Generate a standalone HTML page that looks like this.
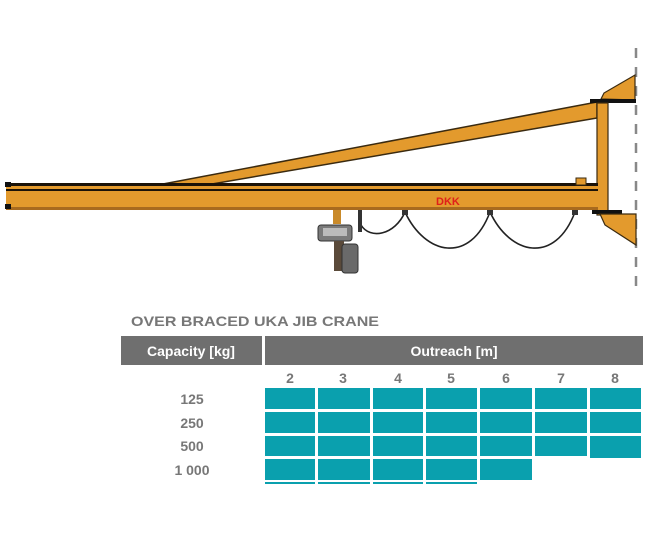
<!DOCTYPE html>
<html><head><meta charset="utf-8"><style>
body{margin:0;background:#fff;width:655px;height:545px;overflow:hidden}
svg{display:block}
</style></head><body>
<svg width="655" height="545" viewBox="0 0 655 545" xmlns="http://www.w3.org/2000/svg" font-family="Liberation Sans, sans-serif">
<!-- dashed wall line -->
<line x1="636" y1="48" x2="636" y2="292" stroke="#888" stroke-width="2.5" stroke-dasharray="10,9"/>
<!-- brace -->
<polygon points="163,184 597,102 597,118 212,184" fill="#e39a2d" stroke="#3a2a10" stroke-width="1.5"/>
<!-- top cone & plate -->
<polygon points="601,99 604,93 635,75 635,100" fill="#e39a2d" stroke="#3a2a10" stroke-width="1.2"/>
<rect x="590" y="99" width="46" height="4" fill="#111"/>
<!-- column -->
<rect x="597" y="103" width="11" height="112" fill="#e39a2d" stroke="#3a2a10" stroke-width="1.2"/>
<!-- beam -->
<rect x="6" y="183" width="592" height="27" fill="#e39a2d"/>
<rect x="6" y="183" width="592" height="3" fill="#1a1208"/>
<rect x="6" y="189" width="592" height="2" fill="#1a1208"/>
<rect x="6" y="207" width="592" height="3" fill="#a86a1e"/>
<rect x="5" y="182" width="6" height="5" fill="#111"/>
<rect x="5" y="204" width="6" height="5" fill="#111"/>
<rect x="576" y="178" width="10" height="7" fill="#e39a2d" stroke="#3a2a10" stroke-width="1"/>
<text x="436" y="205" font-size="11" font-weight="bold" fill="#e0201a">DKK</text>
<!-- bottom cone & plate -->
<rect x="592" y="210" width="30" height="4" fill="#111"/>
<polygon points="600,214 636,214 636,245 605,225" fill="#e39a2d" stroke="#3a2a10" stroke-width="1.2"/>
<!-- festoon -->
<g fill="none" stroke="#222" stroke-width="1.6">
<path d="M361,225 C370,240 395,235 405,212"/>
<path d="M405,212 C425,255 470,265 490,212"/>
<path d="M490,212 C510,255 555,265 575,212"/>
</g>
<rect x="358" y="210" width="4" height="22" fill="#333"/>
<rect x="402" y="210" width="6" height="5" fill="#333"/>
<rect x="487" y="210" width="6" height="5" fill="#333"/>
<rect x="572" y="210" width="6" height="5" fill="#333"/>
<!-- hoist -->
<rect x="333" y="210" width="8" height="14" fill="#c98a2a"/>
<rect x="318" y="225" width="34" height="16" rx="3" fill="#7a7a7a" stroke="#333"/>
<rect x="323" y="228" width="24" height="8" fill="#bbb"/>
<rect x="334" y="241" width="10" height="30" fill="#5a4a3a"/>
<rect x="342" y="244" width="16" height="29" rx="3" fill="#6a6a6a" stroke="#333"/>
<!-- table -->
<text x="131" y="326" font-size="14" font-weight="bold" fill="#777" textLength="248" lengthAdjust="spacingAndGlyphs">OVER BRACED UKA JIB CRANE</text>
<rect x="121" y="336" width="141" height="29" fill="#6f6f6f"/>
<rect x="265" y="336" width="378" height="29" fill="#6f6f6f"/>
<text x="191" y="356" font-size="14" font-weight="bold" fill="#fff" text-anchor="middle">Capacity [kg]</text>
<text x="454" y="356" font-size="14" font-weight="bold" fill="#fff" text-anchor="middle">Outreach [m]</text>
<g font-size="14" font-weight="bold" fill="#777" text-anchor="middle">
<text x="290" y="383">2</text><text x="343" y="383">3</text><text x="398" y="383">4</text><text x="451" y="383">5</text><text x="506" y="383">6</text><text x="561" y="383">7</text><text x="615" y="383">8</text>
<text x="192" y="404">125</text><text x="192" y="428">250</text><text x="192" y="451">500</text><text x="192" y="475">1 000</text>
</g>
<g fill="#0aa0ae">
<rect x="265" y="388" width="50" height="21"/><rect x="318" y="388" width="52" height="21"/><rect x="373" y="388" width="50" height="21"/><rect x="426" y="388" width="51" height="21"/><rect x="480" y="388" width="52" height="21"/><rect x="535" y="388" width="52" height="21"/><rect x="590" y="388" width="51" height="21"/>
<rect x="265" y="412" width="50" height="21"/><rect x="318" y="412" width="52" height="21"/><rect x="373" y="412" width="50" height="21"/><rect x="426" y="412" width="51" height="21"/><rect x="480" y="412" width="52" height="21"/><rect x="535" y="412" width="52" height="21"/><rect x="590" y="412" width="51" height="21"/>
<rect x="265" y="436" width="50" height="20"/><rect x="318" y="436" width="52" height="20"/><rect x="373" y="436" width="50" height="20"/><rect x="426" y="436" width="51" height="20"/><rect x="480" y="436" width="52" height="20"/><rect x="535" y="436" width="52" height="20"/><rect x="590" y="436" width="51" height="22"/>
<rect x="265" y="459" width="50" height="21"/><rect x="318" y="459" width="52" height="21"/><rect x="373" y="459" width="50" height="21"/><rect x="426" y="459" width="51" height="21"/><rect x="480" y="459" width="52" height="21"/>
<rect x="265" y="482" width="50" height="2"/><rect x="318" y="482" width="52" height="2"/><rect x="373" y="482" width="50" height="2"/><rect x="426" y="482" width="51" height="2"/>
</g>
</svg>
</body></html>
